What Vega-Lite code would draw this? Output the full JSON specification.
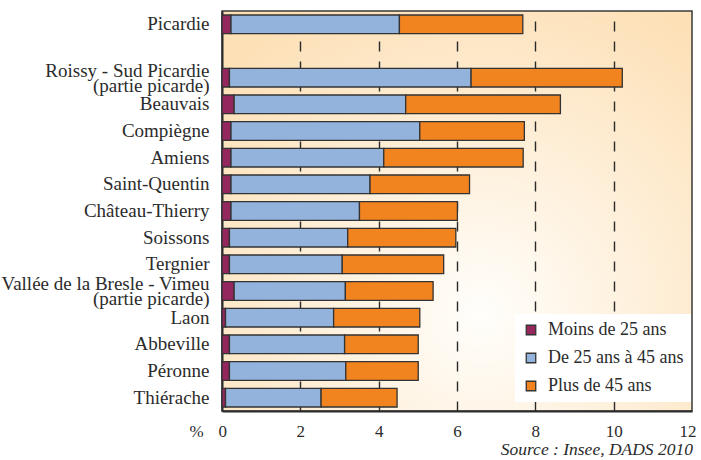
{
  "$schema": "https://vega.github.io/schema/vega-lite/v6.json",
  "width": 470,
  "height": 400,
  "autosize": {"type": "none"},
  "padding": {"left": 222, "top": 11, "right": 9, "bottom": 49},
  "background": "white",
  "config": {
    "font": "Liberation Sans Narrow",
    "view": {
      "stroke": "#3a3a3a",
      "strokeWidth": 1.5,
      "fill": {
        "gradient": "radial",
        "x1": 0.55, "y1": 0.72, "r1": 0,
        "x2": 0.55, "y2": 0.72, "r2": 0.75,
        "stops": [
          {"offset": 0, "color": "#fffefb"},
          {"offset": 1, "color": "#fde0b6"}
        ]
      }
    }
  },
  "title": {
    "text": "Source : Insee, DADS 2010",
    "orient": "bottom",
    "anchor": "end",
    "fontStyle": "italic",
    "fontWeight": "normal",
    "fontSize": 17.5,
    "color": "#2b2b2b",
    "offset": 2,
    "dx": -3
  },
  "data": {
    "values": [
      {"zone": "Picardie", "age": "Moins de 25 ans", "k": 1, "v": 0.23},
      {"zone": "Picardie", "age": "De 25 ans à 45 ans", "k": 2, "v": 4.30},
      {"zone": "Picardie", "age": "Plus de 45 ans", "k": 3, "v": 3.15},
      {"zone": "Roissy - Sud Picardie\n(partie picarde)", "age": "Moins de 25 ans", "k": 1, "v": 0.19},
      {"zone": "Roissy - Sud Picardie\n(partie picarde)", "age": "De 25 ans à 45 ans", "k": 2, "v": 6.17},
      {"zone": "Roissy - Sud Picardie\n(partie picarde)", "age": "Plus de 45 ans", "k": 3, "v": 3.86},
      {"zone": "Beauvais", "age": "Moins de 25 ans", "k": 1, "v": 0.31},
      {"zone": "Beauvais", "age": "De 25 ans à 45 ans", "k": 2, "v": 4.38},
      {"zone": "Beauvais", "age": "Plus de 45 ans", "k": 3, "v": 3.95},
      {"zone": "Compiègne", "age": "Moins de 25 ans", "k": 1, "v": 0.23},
      {"zone": "Compiègne", "age": "De 25 ans à 45 ans", "k": 2, "v": 4.82},
      {"zone": "Compiègne", "age": "Plus de 45 ans", "k": 3, "v": 2.67},
      {"zone": "Amiens", "age": "Moins de 25 ans", "k": 1, "v": 0.23},
      {"zone": "Amiens", "age": "De 25 ans à 45 ans", "k": 2, "v": 3.90},
      {"zone": "Amiens", "age": "Plus de 45 ans", "k": 3, "v": 3.56},
      {"zone": "Saint-Quentin", "age": "Moins de 25 ans", "k": 1, "v": 0.23},
      {"zone": "Saint-Quentin", "age": "De 25 ans à 45 ans", "k": 2, "v": 3.55},
      {"zone": "Saint-Quentin", "age": "Plus de 45 ans", "k": 3, "v": 2.54},
      {"zone": "Château-Thierry", "age": "Moins de 25 ans", "k": 1, "v": 0.23},
      {"zone": "Château-Thierry", "age": "De 25 ans à 45 ans", "k": 2, "v": 3.28},
      {"zone": "Château-Thierry", "age": "Plus de 45 ans", "k": 3, "v": 2.50},
      {"zone": "Soissons", "age": "Moins de 25 ans", "k": 1, "v": 0.19},
      {"zone": "Soissons", "age": "De 25 ans à 45 ans", "k": 2, "v": 3.02},
      {"zone": "Soissons", "age": "Plus de 45 ans", "k": 3, "v": 2.76},
      {"zone": "Tergnier", "age": "Moins de 25 ans", "k": 1, "v": 0.19},
      {"zone": "Tergnier", "age": "De 25 ans à 45 ans", "k": 2, "v": 2.88},
      {"zone": "Tergnier", "age": "Plus de 45 ans", "k": 3, "v": 2.59},
      {"zone": "Vallée de la Bresle - Vimeu\n(partie picarde)", "age": "Moins de 25 ans", "k": 1, "v": 0.31},
      {"zone": "Vallée de la Bresle - Vimeu\n(partie picarde)", "age": "De 25 ans à 45 ans", "k": 2, "v": 2.84},
      {"zone": "Vallée de la Bresle - Vimeu\n(partie picarde)", "age": "Plus de 45 ans", "k": 3, "v": 2.24},
      {"zone": "Laon", "age": "Moins de 25 ans", "k": 1, "v": 0.09},
      {"zone": "Laon", "age": "De 25 ans à 45 ans", "k": 2, "v": 2.76},
      {"zone": "Laon", "age": "Plus de 45 ans", "k": 3, "v": 2.20},
      {"zone": "Abbeville", "age": "Moins de 25 ans", "k": 1, "v": 0.19},
      {"zone": "Abbeville", "age": "De 25 ans à 45 ans", "k": 2, "v": 2.94},
      {"zone": "Abbeville", "age": "Plus de 45 ans", "k": 3, "v": 1.88},
      {"zone": "Péronne", "age": "Moins de 25 ans", "k": 1, "v": 0.19},
      {"zone": "Péronne", "age": "De 25 ans à 45 ans", "k": 2, "v": 2.97},
      {"zone": "Péronne", "age": "Plus de 45 ans", "k": 3, "v": 1.85},
      {"zone": "Thiérache", "age": "Moins de 25 ans", "k": 1, "v": 0.09},
      {"zone": "Thiérache", "age": "De 25 ans à 45 ans", "k": 2, "v": 2.44},
      {"zone": "Thiérache", "age": "Plus de 45 ans", "k": 3, "v": 1.94}
    ]
  },
  "mark": {"type": "bar", "stroke": "#333333", "strokeWidth": 1.3},
  "encoding": {
    "y": {
      "field": "zone",
      "type": "nominal",
      "scale": {
        "domain": ["Picardie", " ", "Roissy - Sud Picardie\n(partie picarde)", "Beauvais", "Compiègne", "Amiens", "Saint-Quentin", "Château-Thierry", "Soissons", "Tergnier", "Vallée de la Bresle - Vimeu\n(partie picarde)", "Laon", "Abbeville", "Péronne", "Thiérache"],
        "paddingInner": 0.3,
        "paddingOuter": 0.15
      },
      "axis": {
        "title": null,
        "ticks": false,
        "domain": true,
        "domainColor": "#2b2b2b",
        "domainWidth": 2,
        "labelFontSize": 19,
        "labelColor": "#2b2b2b",
        "labelPadding": 13,
        "labelLimit": 300,
        "labelLineHeight": 15,
        "labelOffset": {"condition": {"test": "indexof(datum.value, '\\n') >= 0", "value": -7}, "value": 0},
        "labelExpr": "split(datum.label, '\\n')"
      }
    },
    "x": {
      "field": "v",
      "type": "quantitative",
      "stack": "zero",
      "scale": {"domain": [0, 12], "nice": false},
      "axis": {
        "values": [0, 2, 4, 6, 8, 10, 12],
        "grid": true,
        "gridDash": [10, 10],
        "gridColor": "#2b2b2b",
        "gridWidth": 1.4,
        "gridOpacity": {"condition": {"test": "datum.value == 0 || datum.value == 12", "value": 0}, "value": 1},
        "ticks": false,
        "domain": true,
        "domainColor": "#2b2b2b",
        "domainWidth": 2,
        "labelFlush": true,
        "labelFlushOffset": 4,
        "labelFontSize": 17,
        "labelColor": "#2b2b2b",
        "labelPadding": 12,
        "title": "%",
        "titleFontSize": 17,
        "titleFontWeight": "normal",
        "titleColor": "#2b2b2b",
        "titleX": -26,
        "titleY": 12,
        "titleBaseline": "top",
        "titleAlign": "center"
      }
    },
    "color": {
      "field": "age",
      "type": "nominal",
      "scale": {
        "domain": ["Moins de 25 ans", "De 25 ans à 45 ans", "Plus de 45 ans"],
        "range": ["#93275e", "#93b3dd", "#f28420"]
      },
      "legend": {
        "title": null,
        "orient": "none",
        "legendX": 293,
        "legendY": 303,
        "fillColor": "white",
        "padding": 7,
        "symbolType": "square",
        "symbolSize": 90,
        "symbolStrokeColor": "#333333",
        "symbolStrokeWidth": 1.3,
        "symbolOpacity": 1,
        "labelFontSize": 18,
        "labelColor": "#2b2b2b",
        "labelOffset": 8,
        "rowPadding": 10
      }
    },
    "order": {"field": "k", "type": "quantitative"}
  }
}
